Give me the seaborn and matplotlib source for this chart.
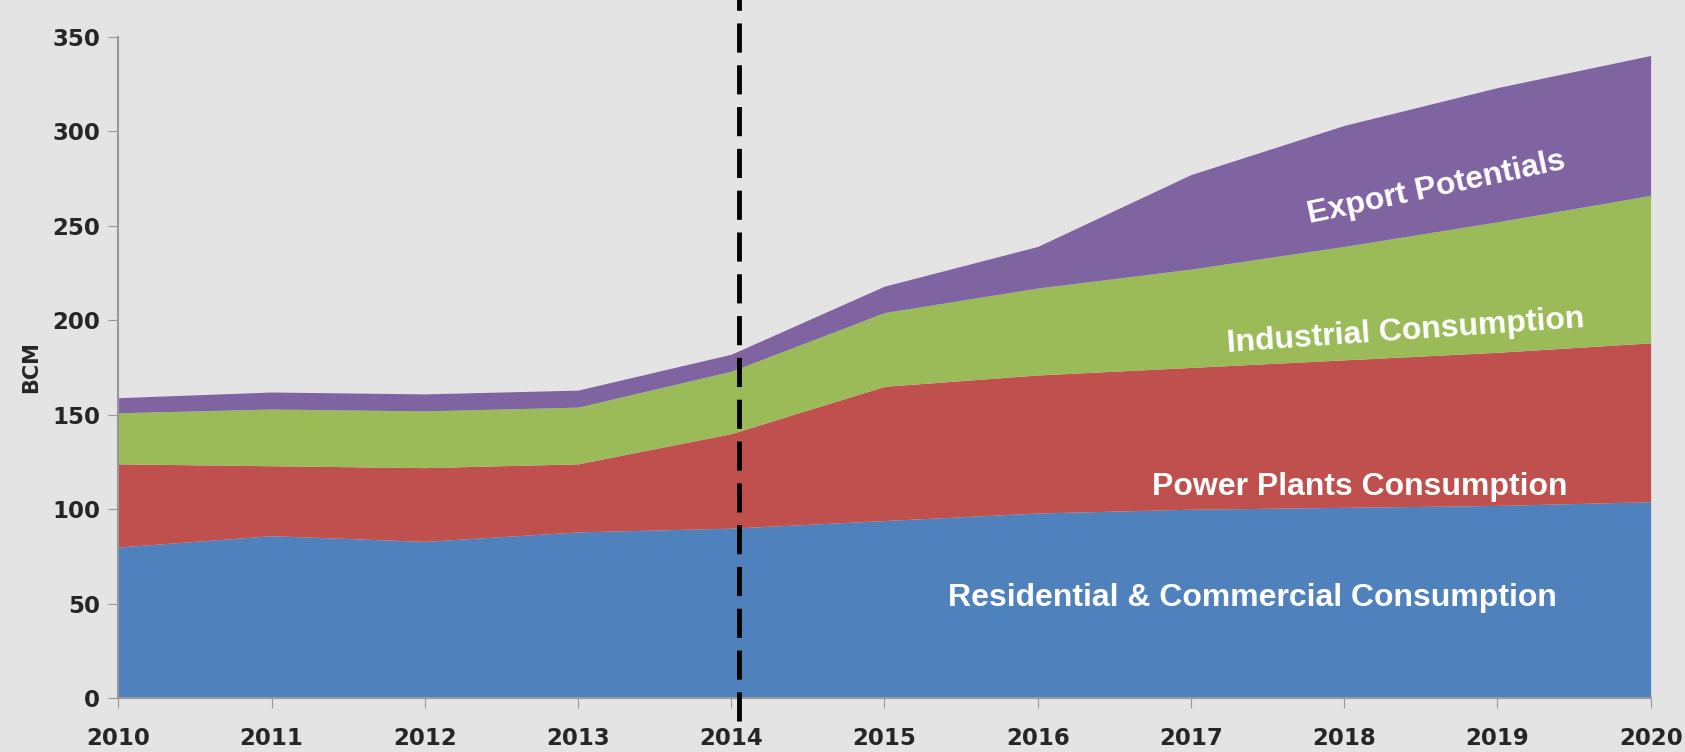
import numpy as np
import pandas as pd

import matplotlib.pyplot as plt
import seaborn as sns

# Values (BCM per year)
years = [2010, 2011, 2012, 2013, 2014, 2015, 2016, 2017, 2018, 2019, 2020]
residential = [80, 86, 83, 88, 90, 94, 98, 100, 101, 102, 104]
power_plants = [44, 37, 39, 36, 50, 71, 73, 75, 78, 81, 84]
industrial = [27, 30, 30, 30, 33, 39, 46, 52, 60, 69, 78]
export = [8, 9, 9, 9, 9, 14, 22, 50, 64, 71, 74]

series_names = ['Residential & Commercial Consumption', 'Power Plants Consumption',
                'Industrial Consumption', 'Export Potentials']
colors = ['#4F81BD', '#C0504D', '#9BBB59', '#8064A2']

df = pd.DataFrame({'Year': years, series_names[0]: residential, series_names[1]: power_plants,
                   series_names[2]: industrial, series_names[3]: export})

sns.set_style('white')
plt.rcParams['font.family'] = ['DejaVu Sans']

fig = plt.figure(figsize=(16.85, 7.52), dpi=100, facecolor='#e4e4e4')
ax = fig.add_axes([0.0702, 0.0714, 0.9094, 0.88])
ax.set_facecolor('#e4e4e4')

ax.stackplot(df['Year'], [df[n] for n in series_names], colors=colors, linewidth=0)

# projection start marker
ax.axvline(2014.05, color='black', linestyle=(0, (6, 2.6)), linewidth=3.5, ymin=-0.035, ymax=1.06,
           clip_on=False, zorder=5)

ax.set_xlim(2010, 2020)
ax.set_ylim(0, 350)
ax.set_xticks(years)
ax.set_yticks(range(0, 351, 50))
ax.tick_params(axis='both', labelsize=16.5, length=7, color='#999999', direction='out',
               bottom=True, left=True, pad=6)
ax.tick_params(axis='x', pad=14)
for lab in ax.get_xticklabels() + ax.get_yticklabels():
    lab.set_fontweight('bold')
ax.set_ylabel('BCM', fontsize=15, fontweight='bold', labelpad=8)

for side in ['top', 'right']:
    ax.spines[side].set_visible(False)
for side in ['left', 'bottom']:
    ax.spines[side].set_color('#999999')
    ax.spines[side].set_linewidth(1.5)

label_font = dict(color='white', fontsize=23, fontweight='bold', family='Liberation Sans',
                  ha='center', va='center')
ax.text(2017.4, 53, series_names[0], **label_font)
ax.text(2018.1, 112, series_names[1], **label_font)
ax.text(2018.4, 194, series_names[2], rotation=4, **label_font)
ax.text(2018.6, 270, series_names[3], rotation=12, **label_font)

fig.savefig('out.png', dpi=100, facecolor=fig.get_facecolor())
